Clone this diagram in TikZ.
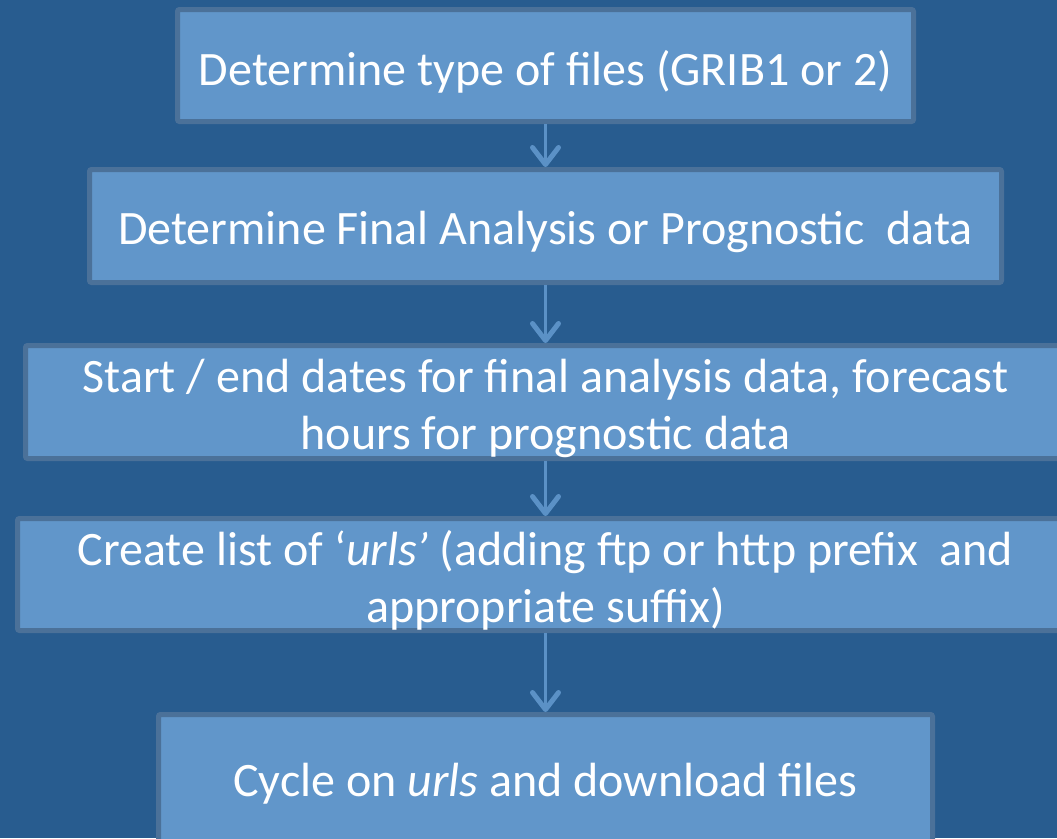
\documentclass[tikz,border=0pt]{standalone}
\usepackage{fontspec}
\setmainfont{Carlito}
\usetikzlibrary{arrows.meta}
\definecolor{slidebg}{HTML}{285C8F}
\definecolor{boxfill}{HTML}{6196CA}
\definecolor{boxedge}{HTML}{4B7199}
\definecolor{flowline}{HTML}{5B91C6}
\begin{document}
\begin{tikzpicture}[x=1pt,y=-1pt,
  stage/.style={draw=boxedge, fill=boxfill, line width=5pt, rounded corners=2pt,
    inner sep=0pt},
  stagetext/.style={text=white, font=\fontsize{48}{57}\selectfont, align=center,
    inner sep=0pt, yshift=-6pt},
  flow/.style={draw=flowline, line width=3pt,
    -{Straight Barb[length=17pt,width=26pt,line width=5pt,round]}}]
% slide background
\fill[slidebg] (0,0) rectangle (1057,838);
\useasboundingbox (0,0) rectangle (1057,838);

% process steps
\node[stage, minimum width=736pt, minimum height=112pt,
  label={[stagetext]center:{Determine type of files (GRIB1 or 2)}}] (b1) at (545.5,65.5) {};
\node[stage, minimum width=912pt, minimum height=113pt,
  label={[stagetext]center:{Determine Final Analysis or Prognostic~ data}}] (b2) at (545.5,226) {};
\node[stage, minimum width=1040pt, minimum height=113pt,
  label={[stagetext]center:{Start / end dates for final analysis data, forecast\\hours for prognostic data}}] (b3) at (545.5,402) {};
\node[stage, minimum width=1056pt, minimum height=112pt,
  label={[stagetext]center:{Create list of ‘\textit{urls’} (adding ftp or http prefix~ and\\appropriate suffix)}}] (b4) at (545.5,574.5) {};
\node[stage, minimum width=774pt, minimum height=133pt,
  label={[stagetext, yshift=3pt]center:{Cycle on \textit{urls} and download files}}] (b5) at (545.5,781) {};

% connectors
\draw[flow] (b1.south) -- (b2.north);
\draw[flow] (b2.south) -- (b3.north);
\draw[flow] (b3.south) -- (b4.north);
\draw[flow] (b4.south) -- (b5.north);
\end{tikzpicture}
\end{document}
